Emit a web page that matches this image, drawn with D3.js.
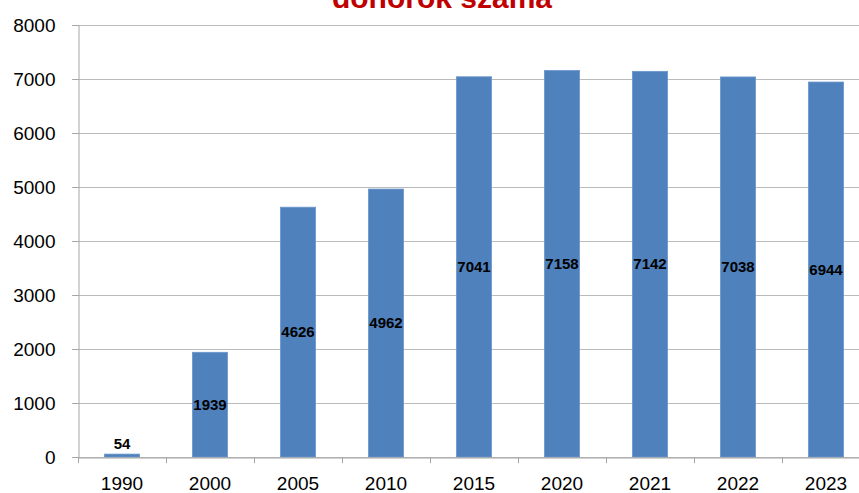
<!DOCTYPE html>
<html>
<head>
<meta charset="utf-8">
<script src="https://cdn.jsdelivr.net/npm/d3@7"></script>
<style>
  html, body { margin: 0; padding: 0; background: #fff; overflow: hidden; }
  svg { display: block; }
</style>
</head>
<body>
<svg id="chart" width="859" height="493"></svg>
<script>
// Donor counts by year
const years = ["1990", "2000", "2005", "2010", "2015", "2020", "2021", "2022", "2023"];
const donors = [54, 1939, 4626, 4962, 7041, 7158, 7142, 7038, 6944];
const yTicks = [0, 1000, 2000, 3000, 4000, 5000, 6000, 7000, 8000];
const title = "donorok száma";

const svg = d3.select("#chart");
const fontFamily = "'Liberation Sans', Arial, sans-serif";

const plotLeft = 78, plotTop = 25, plotBottom = 457;
const bandStep = 88;
const plotRight = plotLeft + bandStep * years.length;

const x = d3.scaleBand().domain(years).range([plotLeft, plotRight]).paddingInner(0.6).paddingOuter(0.3);
const y = d3.scaleLinear().domain([0, 8000]).range([plotBottom, plotTop]);

// Horizontal gridlines
svg.append("g")
  .selectAll("line")
  .data(yTicks)
  .join("line")
  .attr("x1", plotLeft - 6)
  .attr("x2", plotRight)
  .attr("y1", d => y(d) + 0.5)
  .attr("y2", d => y(d) + 0.5)
  .attr("stroke", "#bcbcbc")
  .attr("stroke-width", 1);

// Y axis
const yAxis = svg.append("g")
  .attr("transform", `translate(${plotLeft + 0.5},0)`)
  .call(d3.axisLeft(y).tickValues(yTicks).tickSize(6).tickPadding(17).tickFormat(d3.format("d")));
yAxis.select(".domain").attr("stroke", "#a6a6a6");
yAxis.selectAll(".tick line").attr("stroke", "#a6a6a6");
yAxis.selectAll("text")
  .attr("fill", "#000")
  .style("font-family", fontFamily)
  .style("font-size", "19px");

// Bars
svg.append("g")
  .selectAll("rect")
  .data(donors)
  .join("rect")
  .attr("x", (d, i) => x(years[i]))
  .attr("y", d => y(d))
  .attr("width", x.bandwidth())
  .attr("height", d => plotBottom - y(d))
  .attr("fill", "#4f81bd")
  .attr("stroke", "#6d97cc")
  .attr("stroke-width", 0.8);

// X axis
const xAxisScale = d3.scaleBand().domain(years).range([plotLeft, plotRight]);
const xAxis = svg.append("g")
  .attr("transform", `translate(0,${plotBottom + 0.5})`)
  .call(d3.axisBottom(xAxisScale).tickSize(0).tickPadding(19));
xAxis.select(".domain").attr("stroke", "#a6a6a6");
xAxis.selectAll("text")
  .attr("fill", "#000")
  .style("font-family", fontFamily)
  .style("font-size", "19px");
// Category separator ticks
svg.append("g")
  .selectAll("line")
  .data(d3.range(years.length + 1))
  .join("line")
  .attr("x1", i => plotLeft + i * xAxisScale.step() + 0.5)
  .attr("x2", i => plotLeft + i * xAxisScale.step() + 0.5)
  .attr("y1", plotBottom)
  .attr("y2", plotBottom + 6)
  .attr("stroke", "#a6a6a6");

// Value labels: centred in bar, above it when the bar is too short
svg.append("g")
  .selectAll("text")
  .data(donors)
  .join("text")
  .attr("x", (d, i) => x(years[i]) + x.bandwidth() / 2)
  .attr("y", d => {
    const h = plotBottom - y(d);
    return h < 30 ? y(d) - 5 : (y(d) + plotBottom) / 2 + 5;
  })
  .attr("text-anchor", "middle")
  .style("font-family", fontFamily)
  .style("font-size", "15px")
  .style("font-weight", "bold")
  .attr("fill", "#000")
  .text(d => d);

// Title
svg.append("text")
  .attr("x", 442)
  .attr("y", 8)
  .attr("text-anchor", "middle")
  .style("font-family", fontFamily)
  .style("font-size", "30px")
  .style("font-weight", "bold")
  .attr("fill", "#c00000")
  .text(title);
</script>
</body>
</html>
